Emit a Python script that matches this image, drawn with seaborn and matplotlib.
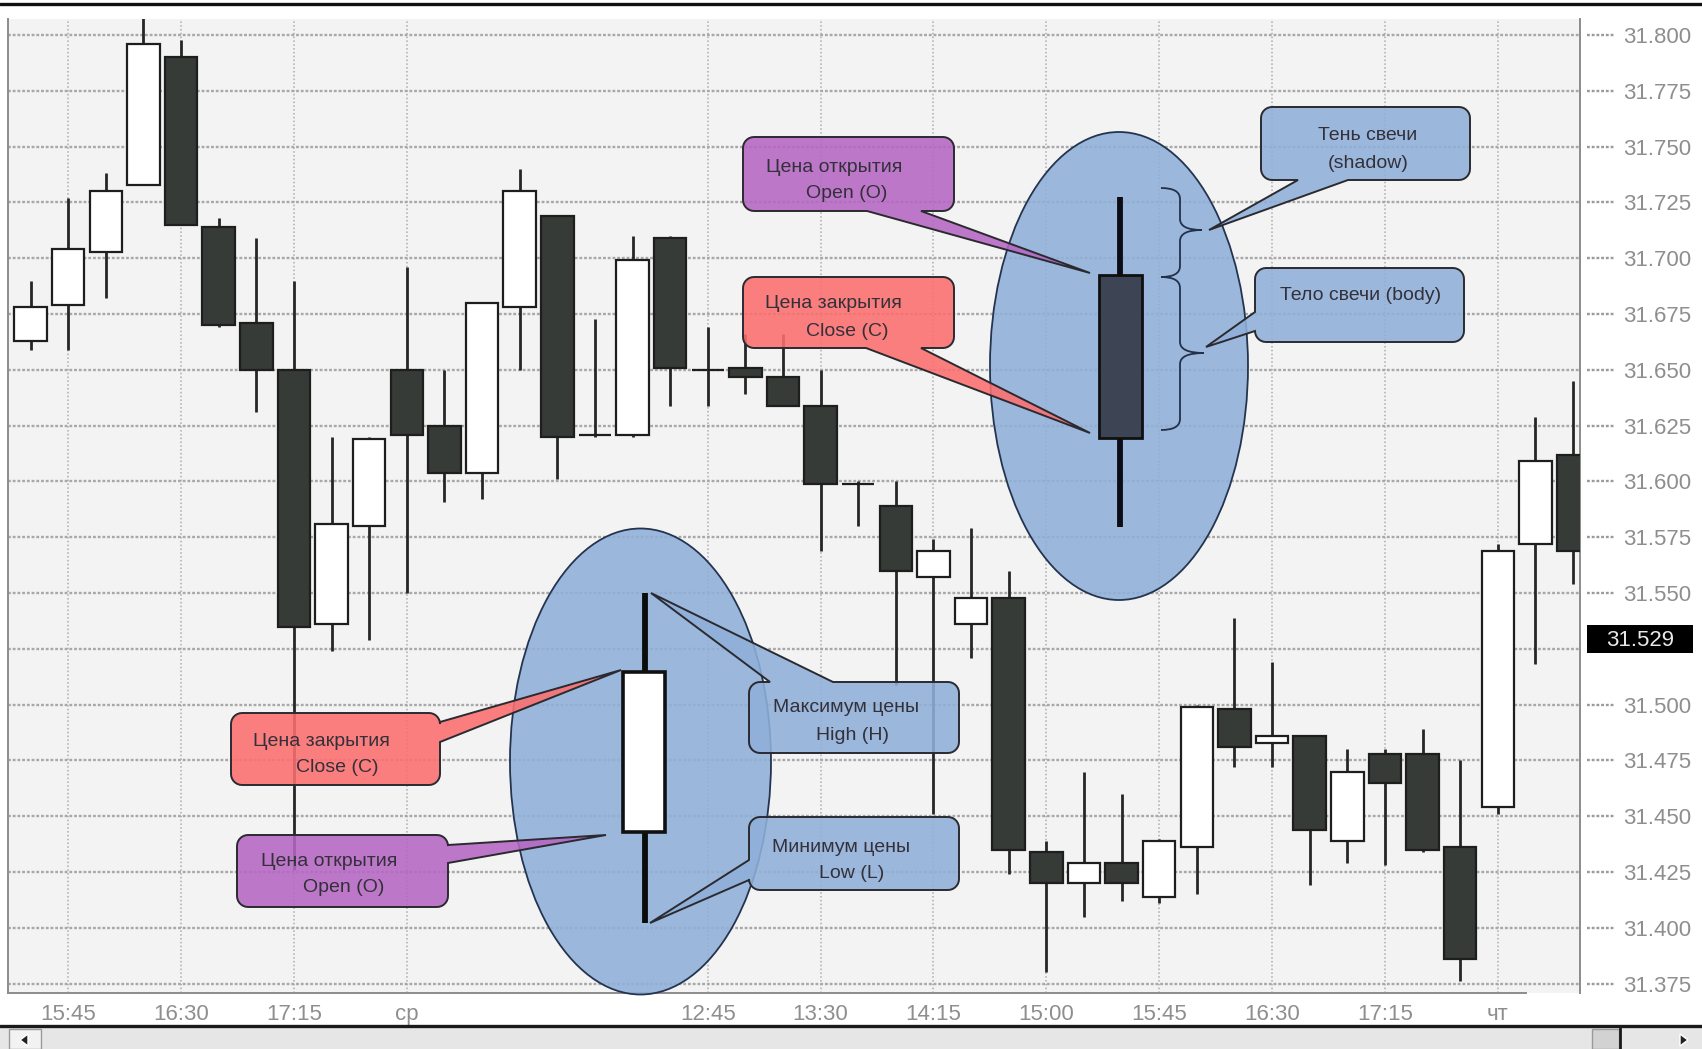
import numpy as np
import pandas as pd
import matplotlib.pyplot as plt
import matplotlib.colors as mcolors
import seaborn as sns
from matplotlib.patches import Ellipse, Polygon, Rectangle, PathPatch
from matplotlib.path import Path
import matplotlib.transforms as mtransforms

# OHLC of the 15-minute candles (left to right)
opens  = [31.663, 31.679, 31.703, 31.733, 31.790, 31.714, 31.671, 31.650, 31.536, 31.580,
          31.650, 31.625, 31.604, 31.678, 31.719, 31.621, 31.621, 31.709, 31.650, 31.651,
          31.647, 31.634, 31.599, 31.589, 31.557, 31.536, 31.548, 31.434, 31.420, 31.429,
          31.414, 31.436, 31.498, 31.483, 31.486, 31.439, 31.478, 31.478, 31.436, 31.454,
          31.572, 31.612]
highs  = [31.690, 31.727, 31.738, 31.812, 31.798, 31.718, 31.709, 31.690, 31.620, 31.620,
          31.696, 31.650, 31.680, 31.740, 31.719, 31.673, 31.710, 31.710, 31.669, 31.666,
          31.666, 31.650, 31.600, 31.600, 31.574, 31.579, 31.560, 31.439, 31.470, 31.460,
          31.440, 31.500, 31.539, 31.519, 31.486, 31.480, 31.480, 31.489, 31.475, 31.572,
          31.629, 31.645]
lows   = [31.659, 31.659, 31.682, 31.733, 31.715, 31.669, 31.631, 31.426, 31.524, 31.529,
          31.550, 31.591, 31.592, 31.650, 31.601, 31.620, 31.620, 31.634, 31.634, 31.639,
          31.634, 31.569, 31.580, 31.509, 31.451, 31.521, 31.424, 31.380, 31.405, 31.412,
          31.411, 31.415, 31.472, 31.472, 31.419, 31.429, 31.428, 31.434, 31.376, 31.451,
          31.518, 31.554]
closes = [31.678, 31.704, 31.730, 31.796, 31.715, 31.670, 31.650, 31.535, 31.581, 31.619,
          31.621, 31.604, 31.680, 31.730, 31.620, 31.621, 31.699, 31.651, 31.650, 31.647,
          31.634, 31.599, 31.599, 31.560, 31.569, 31.548, 31.435, 31.420, 31.429, 31.420,
          31.439, 31.499, 31.481, 31.486, 31.444, 31.470, 31.465, 31.435, 31.386, 31.569,
          31.609, 31.569]

tick_pos    = [1, 4, 7, 10, 18, 21, 24, 27, 30, 33, 36, 39]
tick_labels = ['15:45', '16:30', '17:15', 'ср', '12:45', '13:30', '14:15',
               '15:00', '15:45', '16:30', '17:15', 'чт']
price_ticks = [31.375, 31.400, 31.425, 31.450, 31.475, 31.500, 31.525, 31.550, 31.575,
               31.600, 31.625, 31.650, 31.675, 31.700, 31.725, 31.750, 31.775, 31.800]
last_price = 31.529

df = pd.DataFrame({'open': opens, 'high': highs, 'low': lows, 'close': closes})
df['idx'] = np.arange(len(df))
df['up'] = df['close'] >= df['open']

sns.set_style('white')
plt.rcParams['font.family'] = ['Liberation Sans', 'DejaVu Sans']

W, H = 1702, 1049
fig = plt.figure(figsize=(W / 100, H / 100), dpi=100)
fig.patch.set_facecolor('white')

# main chart area (pixel box 8..1580 x 19..993)
ax = fig.add_axes([8 / W, (H - 993) / H, (1580 - 8) / W, (993 - 19) / H])
ax.set_facecolor('#f3f3f3')
ax.set_xlim(-0.601, 41.186)
ax.set_ylim(31.3708, 31.8072)

ax.vlines(df['idx'], df['low'], df['high'], color='#262626', lw=2.0, zorder=2)
ax.bar(df['idx'], (df['close'] - df['open']).abs(),
       bottom=df[['open', 'close']].min(axis=1), width=0.864,
       color=np.where(df['up'], 'white', '#363b37'),
       edgecolor='#1e1e1e', linewidth=1.6, zorder=3)

ax.set_xticks(tick_pos)
ax.set_xticklabels(tick_labels)
ax.set_yticks(price_ticks)
# the 31.525 label sits under the last-price marker, so leave it blank
ax.set_yticklabels([f'{p:.3f}' if abs(p - 31.525) > 1e-9 else '' for p in price_ticks])
ax.yaxis.tick_right()
ax.set_axisbelow(True)
ax.grid(axis='y', color='#a8a8a8', linestyle=(0, (1.2, 0.8)), linewidth=1.7)
ax.grid(axis='x', color='#acacac', linestyle=(0, (1, 1.5)), linewidth=1.1)
ax.tick_params(axis='x', length=0, pad=8, labelsize=16, labelcolor='#8e8e8e')
ax.tick_params(axis='y', length=0, pad=31, labelsize=16, labelcolor='#8e8e8e')

for s in ['left', 'right', 'bottom']:
    ax.spines[s].set_color('#8c8c8c')
    ax.spines[s].set_linewidth(1.4)
ax.spines['top'].set_visible(False)
ax.spines['bottom'].set_bounds(-0.601, 39.75)

# dotted leaders between the chart and the price labels
trans = mtransforms.blended_transform_factory(ax.transAxes, ax.transData)
for p in price_ticks:
    ax.plot([1.0045, 1.0216], [p, p], transform=trans, clip_on=False,
            color='#9a9a9a', lw=1.7, linestyle=(0, (1.2, 0.8)))

# overlay in pixel coordinates for the explanatory drawing
ov = fig.add_axes([0, 0, 1, 1], zorder=5)
ov.set_xlim(0, W)
ov.set_ylim(H, 0)
ov.axis('off')
ov.patch.set_alpha(0)

# frame lines and scrollbar
ov.plot([0, W], [4, 4], color='#111111', lw=2.4)
ov.add_patch(Rectangle((0, 1027), W, 22, fc='#e6e6e6', ec='none'))
ov.plot([0, W], [1026, 1026], color='#1a1a1a', lw=2.4)
ov.add_patch(Rectangle((9, 1029), 32, 20, fc='#f2f2f2', ec='#9a9a9a', lw=1))
ov.add_patch(Polygon([(20, 1040), (28, 1034), (28, 1046)], fc='#222222'))
ov.add_patch(Rectangle((1592, 1029), 27, 20, fc='#d2d2d2', ec='#9a9a9a', lw=1))
ov.plot([1620, 1620], [1028, 1049], color='#1a1a1a', lw=2)
ov.add_patch(Polygon([(1688, 1040), (1680, 1034), (1680, 1046)], fc='#222222'))

# current price marker
ov.add_patch(Rectangle((1587, 625), 106, 28, fc='black', ec='none', zorder=6))
ov.text(1640, 640, f'{last_price:.3f}', color='#e8e8e8', fontsize=16,
        ha='center', va='center', zorder=7)

blue = '#8fb0d9'
ell_kw = dict(fc=mcolors.to_rgba(blue, 0.88), ec='#24344f', lw=1.3, zorder=1)
ov.add_patch(Ellipse((1119, 366), 258, 468, **ell_kw))
ov.add_patch(Ellipse((640.5, 761.5), 261, 466, **ell_kw))

# schematic candles inside the ellipses
ov.plot([1120, 1120], [197, 527], color='#0c0c14', lw=4.2, zorder=2, solid_capstyle='butt')
ov.add_patch(Rectangle((1098.5, 275), 43.5, 163, fc='#3d4554', ec='#101010', lw=2, zorder=2))
ov.plot([645, 645], [593, 923], color='#0c0c0c', lw=4.2, zorder=2, solid_capstyle='butt')
ov.add_patch(Rectangle((623, 671.5), 42, 160, fc='white', ec='#101010', lw=2.6, zorder=2))


def brace(xe, xs, xp, y0, ym, y1, c=11):
    verts = [(xe, y0), (xs, y0), (xs, y0 + c), (xs, ym - c), (xs, ym), (xp, ym),
             (xp, ym), (xs, ym), (xs, ym + c), (xs, y1 - c), (xs, y1), (xe, y1)]
    codes = [Path.MOVETO, Path.CURVE3, Path.CURVE3, Path.LINETO, Path.CURVE3, Path.CURVE3,
             Path.MOVETO, Path.CURVE3, Path.CURVE3, Path.LINETO, Path.CURVE3, Path.CURVE3]
    ov.add_patch(PathPatch(Path(verts, codes), fc='none', ec='#23304a', lw=1.3, zorder=2))


brace(1161, 1180, 1202, 188, 230, 277)
brace(1161, 1180, 1204, 277, 353, 430)


def callout(x0, y0, x1, y1, side, b0, b1, tip, fc, r=11):
    def arc(cx, cy, a0, a1):
        t = np.radians(np.linspace(a0, a1, 8))
        return list(zip(cx + r * np.cos(t), cy + r * np.sin(t)))
    pts = arc(x0 + r, y0 + r, 180, 270)
    if side == 'top':
        pts += [(b0, y0), tip, (b1, y0)]
    pts += arc(x1 - r, y0 + r, 270, 360)
    if side == 'right':
        pts += [(x1, b0), tip, (x1, b1)]
    pts += arc(x1 - r, y1 - r, 0, 90)
    if side == 'bottom':
        pts += [(b1, y1), tip, (b0, y1)]
    pts += arc(x0 + r, y1 - r, 90, 180)
    if side == 'left':
        pts += [(x0, b1), tip, (x0, b0)]
    ov.add_patch(Polygon(pts, closed=True, fc=mcolors.to_rgba(fc, 0.88),
                         ec='#2a2a30', lw=1.4, zorder=3))


purple = '#b566c3'
red = '#fd6e6e'
txt = dict(fontsize=14, color='#33303a', ha='center', va='center', zorder=4)

callout(743, 137, 954, 211, 'bottom', 867, 921, (1090, 273), purple)
ov.text(834, 167, 'Цена открытия', **txt)
ov.text(847, 194, 'Open (O)', **txt)

callout(743, 277, 954, 348, 'bottom', 866, 921, (1090, 433), red)
ov.text(833, 304, 'Цена закрытия', **txt)
ov.text(847, 331, 'Close (C)', **txt)

callout(1261, 107, 1470, 180, 'bottom', 1298, 1348, (1209, 230), blue)
ov.text(1368, 136, 'Тень свечи', **txt)
ov.text(1368, 163, '(shadow)', **txt)

callout(1255, 268, 1464, 342, 'left', 312, 331, (1206, 347), blue)
ov.text(1361, 295, 'Тело свечи (body)', **txt)

callout(749, 682, 959, 753, 'top', 770, 833, (651, 593), blue)
ov.text(846, 708, 'Максимум цены', **txt)
ov.text(852, 735, 'High (H)', **txt)

callout(749, 817, 959, 890, 'left', 860, 880, (650, 923), blue)
ov.text(841, 847, 'Минимум цены', **txt)
ov.text(852, 873, 'Low (L)', **txt)

callout(231, 713, 440, 785, 'right', 722, 742, (621, 670), red)
ov.text(321, 742, 'Цена закрытия', **txt)
ov.text(337, 768, 'Close (C)', **txt)

callout(237, 835, 448, 907, 'right', 845, 863, (606, 835), purple)
ov.text(329, 862, 'Цена открытия', **txt)
ov.text(344, 888, 'Open (O)', **txt)

fig.savefig('out.png', dpi=100)
